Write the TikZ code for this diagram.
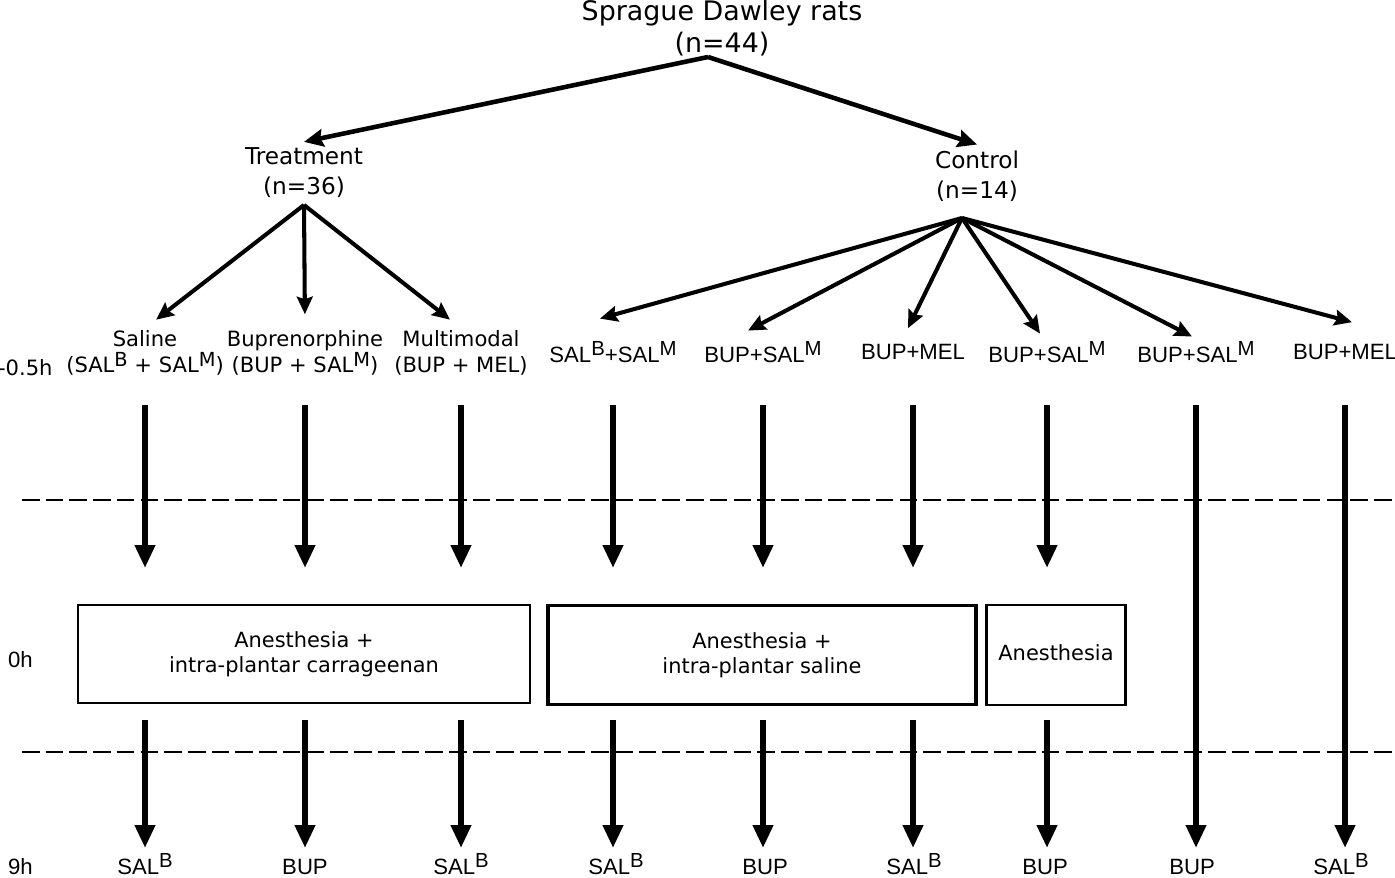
\documentclass[tikz,border=0pt]{standalone}
\usepackage{fontspec}
\setmainfont{DejaVu Sans}
\newfontfamily\narrowfont{Liberation Sans}
\usetikzlibrary{arrows.meta, calc, positioning}
\tikzstyle{toparrow} = [line width=2.6pt, -{Stealth[length=11pt, width=10pt, inset=1.5pt]}]
\tikzstyle{splitarrow} = [line width=2.3pt, -{Stealth[length=10pt, width=9pt, inset=1.5pt]}]
\tikzstyle{bigarrow} = [line width=3.2pt, -{Triangle[length=13pt, width=11pt]}]
\tikzstyle{timemark} = [line width=1.5pt, dash pattern=on 10pt off 3.5pt]
\tikzstyle{phasebox} = [rectangle, draw=black, align=center, font=\fontsize{11.9}{14.5}\selectfont]
\tikzstyle{head} = [align=center, font=\fontsize{13.2}{17}\selectfont]
\tikzstyle{arm} = [align=center, font=\fontsize{12}{15}\selectfont, inner sep=1pt]
\tikzstyle{dose} = [font=\narrowfont\fontsize{12.6}{14}\selectfont, inner sep=1pt]
\newcommand{\supr}[1]{\raisebox{0.55ex}{\scalebox{0.92}{#1}}}

\begin{document}
\begin{tikzpicture}[x=0.02cm, y=-0.02cm]
	\useasboundingbox (0,0) rectangle (1395,878);
	% tree
	\node (rats) [align=center, font=\fontsize{15.3}{18.2}\selectfont] at (722,28) {Sprague Dawley rats\\(n=44)};
	\coordinate (top) at (708,57);
	\node (treat) [head] at (304,173) {Treatment\\(n=36)};
	\node (ctrl) [head] at (977,176) {Control\\(n=14)};
	\coordinate (tsplit) at (304,205);
	\coordinate (csplit) at (962,218);
	\draw [toparrow] (top) -- (treat.north);
	\draw [toparrow] (top) -- (ctrl.north);

	% groups at -0.5h
	\node (tpre) [arm, anchor=west] at (-4,368) {-0.5h};
	\node (sal) [arm] at (145,353) {Saline\\(SAL\supr{B} + SAL\supr{M})};
	\node (bup) [arm] at (305,353) {Buprenorphine\\(BUP + SAL\supr{M})};
	\node (mm) [arm] at (461,353) {Multimodal\\(BUP + MEL)};
	\node (c1) [dose] at (613,352) {SAL\supr{B}+SAL\supr{M}};
	\node (c2) [dose] at (763,352) {BUP+SAL\supr{M}};
	\node (c3) [dose] at (913,352) {BUP+MEL};
	\node (c4) [dose] at (1047,352) {BUP+SAL\supr{M}};
	\node (c5) [dose] at (1196,352) {BUP+SAL\supr{M}};
	\node (c6) [dose] at (1345,352) {BUP+MEL};

	\draw [splitarrow, shorten >=8pt] (tsplit) -- (sal.north);
	\draw [splitarrow, shorten >=8pt] (tsplit) -- (bup.north);
	\draw [splitarrow, shorten >=8pt] (tsplit) -- (mm.north);
	\draw [splitarrow] (csplit) -- ($(c1.north)+(-13,-21)$);
	\draw [splitarrow] (csplit) -- ($(c2.north)+(-15,-9)$);
	\draw [splitarrow] (csplit) -- ($(c3.north)+(-5,-14)$);
	\draw [splitarrow] (csplit) -- ($(c4.north)+(-7,-6)$);
	\draw [splitarrow] (csplit) -- ($(c5.north)+(-4,-3)$);
	\draw [splitarrow] (csplit) -- ($(c6.north)+(7,-20)$);

	% time lines
	\coordinate (dashA1) at (22,500);
	\coordinate (dashA2) at (1395,500);
	\coordinate (dashB1) at (22,752);
	\coordinate (dashB2) at (1395,752);
	\draw [timemark] (dashA1) -- (dashA2);
	\draw [timemark] (dashB1) -- (dashB2);

	% 0h
	\node (tzero) [dose, anchor=west] at (6,660) {0h};
	\node (carr) [phasebox, line width=1.2pt, minimum width=9.04cm, minimum height=1.96cm] at (304,654) {Anesthesia +\\intra-plantar carrageenan};
	\node (salbox) [phasebox, line width=2.2pt, minimum width=8.56cm, minimum height=1.98cm] at (762,655) {Anesthesia +\\intra-plantar saline};
	\node (anbox) [phasebox, line width=1.4pt, minimum width=2.78cm, minimum height=2cm, text depth=3pt] at (1056,655) {Anesthesia};

	% 9h
	\node (tnine) [dose, anchor=base west] at (6,874) {9h};
	\node (e1) [dose, anchor=base] at (145,874) {SAL\supr{B}};
	\node (e2) [dose, anchor=base] at (305,874) {BUP};
	\node (e3) [dose, anchor=base] at (461,874) {SAL\supr{B}};
	\node (e4) [dose, anchor=base] at (616,874) {SAL\supr{B}};
	\node (e5) [dose, anchor=base] at (765,874) {BUP};
	\node (e6) [dose, anchor=base] at (914,874) {SAL\supr{B}};
	\node (e7) [dose, anchor=base] at (1045,874) {BUP};
	\node (e8) [dose, anchor=base] at (1192,874) {BUP};
	\node (e9) [dose, anchor=base] at (1341,874) {SAL\supr{B}};

	\coordinate (upA) at (0,405);
	\coordinate (upB) at (0,568);
	\coordinate (lowA) at (0,720);
	\coordinate (lowB) at (0,848);
	\draw [bigarrow] (sal |- upA) -- (sal |- upB);
	\draw [bigarrow] (bup |- upA) -- (bup |- upB);
	\draw [bigarrow] (mm |- upA) -- (mm |- upB);
	\draw [bigarrow] (c1 |- upA) -- (c1 |- upB);
	\draw [bigarrow] (c2 |- upA) -- (c2 |- upB);
	\draw [bigarrow] (c3 |- upA) -- (c3 |- upB);
	\draw [bigarrow] (c4 |- upA) -- (c4 |- upB);
	\draw [bigarrow] (c5 |- upA) -- (c5 |- lowB);
	\draw [bigarrow] (c6 |- upA) -- (c6 |- lowB);
	\draw [bigarrow] (sal |- lowA) -- (sal |- lowB);
	\draw [bigarrow] (bup |- lowA) -- (bup |- lowB);
	\draw [bigarrow] (mm |- lowA) -- (mm |- lowB);
	\draw [bigarrow] (c1 |- lowA) -- (c1 |- lowB);
	\draw [bigarrow] (c2 |- lowA) -- (c2 |- lowB);
	\draw [bigarrow] (c3 |- lowA) -- (c3 |- lowB);
	\draw [bigarrow] (c4 |- lowA) -- (c4 |- lowB);
\end{tikzpicture}
\end{document}
